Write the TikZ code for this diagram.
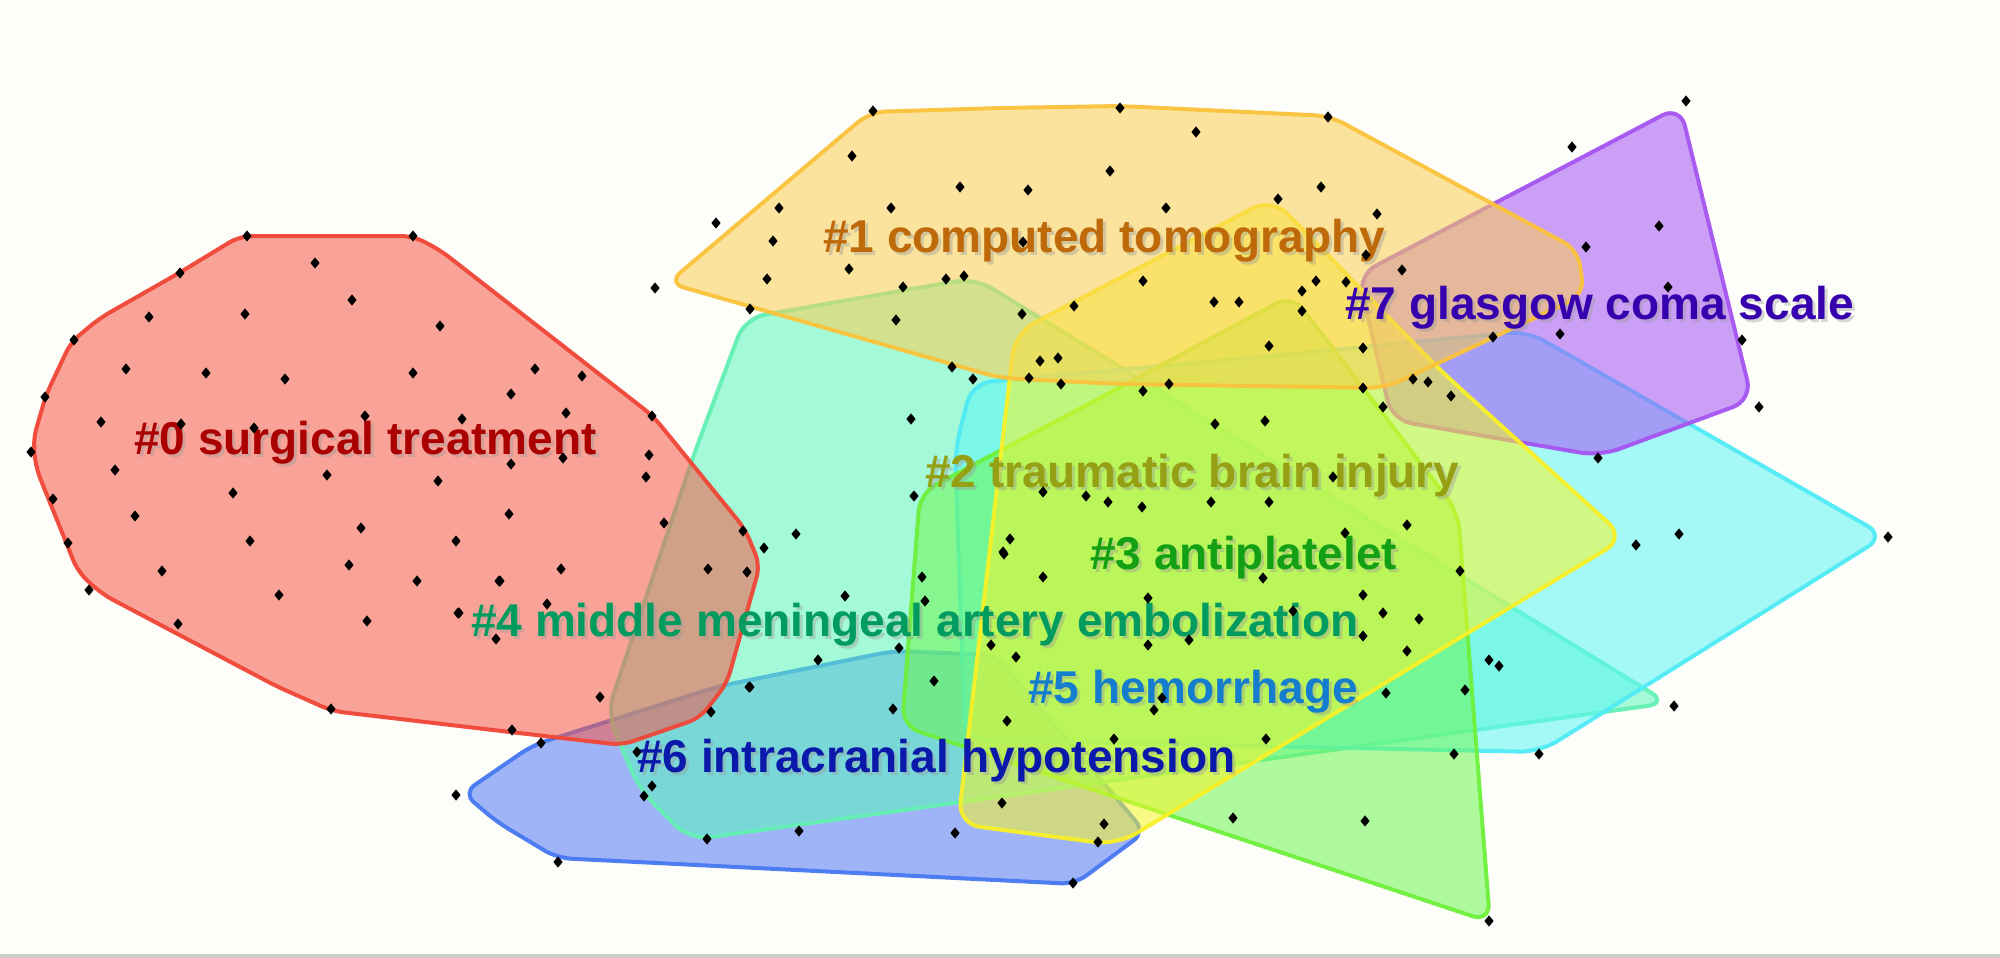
\documentclass[tikz,border=0pt]{standalone}
\usepackage{fontspec}
\newfontfamily\labfont{Liberation Sans}
\definecolor{bgc}{RGB}{253,253,250}
\definecolor{f0}{RGB}{246,88,73}   \definecolor{b0}{RGB}{240,70,55}
\definecolor{f1}{RGB}{251,206,82}  \definecolor{b1}{RGB}{250,195,60}
\definecolor{f2}{RGB}{246,246,40}  \definecolor{b2}{RGB}{248,240,40}
\definecolor{f3}{RGB}{110,246,82}  \definecolor{b3}{RGB}{110,240,60}
\definecolor{f4}{RGB}{91,246,191}  \definecolor{b4}{RGB}{100,240,180}
\definecolor{f5}{RGB}{91,246,246}  \definecolor{b5}{RGB}{80,235,245}
\definecolor{f6}{RGB}{82,119,246}  \definecolor{b6}{RGB}{70,120,240}
\definecolor{f7}{RGB}{164,82,246}  \definecolor{b7}{RGB}{165,85,240}
\definecolor{t0}{RGB}{170,0,0}
\definecolor{t1}{RGB}{190,105,10}
\definecolor{t2}{RGB}{150,160,20}
\definecolor{t3}{RGB}{20,160,20}
\definecolor{t4}{RGB}{0,155,95}
\definecolor{t5}{RGB}{20,125,205}
\definecolor{t6}{RGB}{10,25,170}
\definecolor{t7}{RGB}{55,0,175}
\newcommand\cluslab[5]{%
  \node[shd] (#1s) at (#2+3,#3+3) {#5};
  \node[lbl,text=#4] (#1) at (#2,#3) {#5};}
\begin{document}
\begin{tikzpicture}[x=1pt,y=-1pt,
  hull/.style={rounded corners=#1, line width=4pt, line join=round, fill opacity=0.55, draw opacity=0.95},
  hull/.default=14pt,
  lbl/.style={anchor=base west, inner sep=0pt, font=\labfont\bfseries\fontsize{46}{50}\selectfont},
  shd/.style={lbl, text=black!40, opacity=0.4},
  dotmark/.style={fill=black}]
\useasboundingbox (0,0) rectangle (2000,958);
\fill[bgc] (0,0) rectangle (2000,958);
\fill[black!20] (0,954) rectangle (2000,958);

% #6 blue
\filldraw[hull=14pt, fill=f6, draw=b6] (498,769) -- (533,745) -- (720,686) -- (893,651) -- (995,655) -- (1145,832) -- (1075,884) -- (557,858) -- (497,822) -- (463,793) -- cycle;
% #4 mint
\filldraw[hull=20pt, fill=f4, draw=b4] (860,298) -- (975,278) -- (1668,703) -- (690,840) -- (640,790) -- (607,714) -- (693,457) -- (745,318) -- cycle;
% #5 cyan
\filldraw[hull=20pt, fill=f5, draw=b5] (1250,358) -- (1527,331) -- (1885,536) -- (1540,752) -- (965,740) -- (955,450) -- (972,383) -- cycle;
% #3 green
\filldraw[hull=18pt, fill=f3, draw=b3] (1100,398) -- (1292,295) -- (1458,512) -- (1490,922) -- (902,726) -- (920,493) -- cycle;
% #7 purple
\filldraw[hull=20pt, fill=f7, draw=b7] (1520,190) -- (1680,106) -- (1752,400) -- (1600,456) -- (1392,420) -- (1358,275) -- cycle;
% #2 yellow
\filldraw[hull=22pt, fill=f2, draw=b2] (1440,370) -- (1625,538) -- (1117,845) -- (958,824) -- (1015,333) -- (1272,198) -- cycle;
% #1 orange
\filldraw[hull=16pt, fill=f1, draw=b1] (1000,108) -- (1120,106) -- (1330,116) -- (1578,250) -- (1584,295) -- (1385,388) -- (1120,384) -- (1000,378) -- (668,283) -- (870,112) -- cycle;
% #0 red
\filldraw[hull=12pt, fill=f0, draw=b0] (330,236) -- (413,236) -- (440,250) -- (653,416) -- (745,529) -- (760,565) -- (727,683) -- (700,718) -- (622,745) -- (510,732) -- (332,711) -- (276,686) -- (102,594) -- (78,572) -- (36,468) -- (33,440) -- (46,395) -- (71,342) -- (100,318) -- (179,273) -- (240,236) -- cycle;

% labels
\cluslab{l0}{134}{454}{t0}{\#0 surgical treatment}
\cluslab{l1}{823}{252}{t1}{\#1 computed tomography}
\cluslab{l2}{925}{487}{t2}{\#2 traumatic brain injury}
\cluslab{l3}{1090}{569}{t3}{\#3 antiplatelet}
\cluslab{l4}{471}{636}{t4}{\#4 middle meningeal artery embolization}
\cluslab{l5}{1028}{703}{t5}{\#5 hemorrhage}
\cluslab{l6}{637}{772}{t6}{\#6 intracranial hypotension}
\cluslab{l7}{1345}{319}{t7}{\#7 glasgow coma scale}

% nodes (dots)
\foreach \p/\q in {247/236, 413/236, 315/263, 180/273, 352/300, 149/317, 245/314, 440/326, 74/340, 126/369, 206/373, 285/379, 413/373, 535/369, 582/376, 511/394, 45/397, 365/416, 462/419, 566/413, 652/416, 101/422, 181/424, 254/428, 649/455, 31/452, 563/458, 115/470, 327/475, 511/464, 438/481, 646/477, 233/493, 53/499, 135/516, 509/514, 361/528, 664/523, 743/531, 250/541, 456/541, 764/548, 796/534, 68/543, 349/565, 561/569, 708/569, 747/572, 162/571, 417/581, 499/581, 89/590, 279/595, 547/604, 458/613, 367/621, 496/639, 178/624, 600/697, 331/709, 512/730, 541/743, 711/712, 749/687,
655/288, 716/223, 773/241, 767/279, 750/309, 779/208, 873/111, 1120/108, 1328/117, 1196/132, 852/156, 1110/171, 960/187, 1028/190, 1321/187, 1278/199, 891/208, 1166/208, 1377/214, 1023/242, 1366/255, 1572/147, 1586/247, 849/269, 946/279, 964/276, 1402/270, 903/287, 1143/281, 1316/281, 1346/282, 1302/291, 1074/306, 1214/302, 1239/302, 1302/311, 896/320, 1022/314, 1269/346, 1363/348, 1493/337, 1560/334, 952/367, 1040/361, 1058/358, 973/379, 1029/378, 1061/384, 1143/391, 1169/384, 1363/388, 1413/379, 1428/382, 1451/396, 1383/407, 911/419, 1215/424, 1265/421,
1686/101, 1659/226, 1668/287, 1742/340, 1759/407, 1598/458,
1333/477, 914/496, 1043/492, 1086/496, 1108/502, 1142/507, 1211/502, 1269/502, 1407/525, 1636/545, 1679/534, 1888/537, 1010/539, 1003/552, 1345/533, 922/577, 1043/577, 1263/578, 1460/571, 925/601, 1148/598, 1363/595, 1383/613, 1419/619, 899/648, 991/645, 1016/657, 1148/645, 1189/640, 1363/636, 1407/651, 1489/660, 1499/666, 934/681, 1386/693, 1465/690, 1162/698, 893/709, 1154/710, 1007/721, 1114/739, 1266/739, 1454/754, 1539/754, 1674/706, 1293/611,
500/581, 845/596, 1004/554, 459/613, 818/660, 750/687, 652/786, 644/796, 456/795, 1002/803, 1104/824, 1098/842, 707/839, 799/831, 955/833, 558/862, 1073/883, 1233/818, 1365/821, 637/752, 1489/921}
  \fill[dotmark] (\p,\q) +(0,-5.6) -- +(4.6,0) -- +(0,5.6) -- +(-4.6,0) -- cycle;
\end{tikzpicture}
\end{document}
